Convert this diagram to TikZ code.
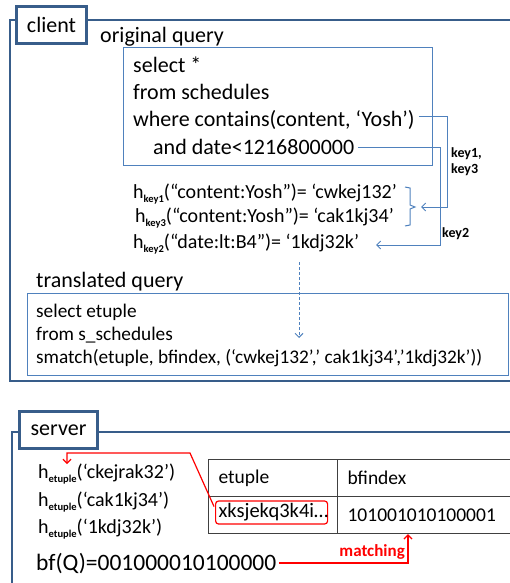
\documentclass[tikz,border=0pt]{standalone}
\usepackage{fontspec}
\setmainfont{Carlito}
\usetikzlibrary{arrows.meta,calc}
\definecolor{frameblue}{HTML}{385D8A}
\definecolor{boxblue}{HTML}{4F81BD}
\definecolor{hitred}{HTML}{FF0000}
\definecolor{cellgray}{HTML}{404040}
\newcommand{\hsb}[1]{\raisebox{-0.45ex}{\fontsize{10.5}{10.5}\selectfont\bfseries #1}}
\begin{document}
\begin{tikzpicture}[x=1pt, y=-1pt, >={Straight Barb[length=4pt,width=8pt]},
    frame/.style = {draw=frameblue, line width=2pt},
    tag/.style = {draw=frameblue, line width=3pt, fill=white, anchor=north west, minimum height=37pt, inner sep=0pt, font=\fontsize{22}{22}\selectfont},
    qbox/.style = {draw=boxblue, line width=1.2pt, anchor=north west, inner sep=0pt},
    big/.style = {anchor=base west, inner sep=0pt, font=\fontsize{22}{22}\selectfont},
    mid/.style = {anchor=base west, inner sep=0pt, font=\fontsize{20}{20}\selectfont},
    small/.style = {anchor=base west, inner sep=0pt, font=\fontsize{19.3}{19.3}\selectfont},
    keytext/.style = {inner sep=0pt, align=left, font=\fontsize{14}{16}\selectfont\bfseries},
    link/.style = {draw=boxblue, line width=1pt},
    cell/.style = {draw=cellgray, line width=1.2pt, anchor=north west, minimum height=37pt, inner xsep=10pt, inner ysep=0pt, text width=#1, font=\fontsize{19.5}{19.5}\selectfont},
    hit/.style = {draw=hitred, line width=1.2pt}]
    \useasboundingbox (0,0) rectangle (510,583);
    \clip (0,0) rectangle (510,583);

    \draw[frame] (520,20) -- (10,20) -- (10,381) -- (520,381);
    \node[tag, minimum width=70pt] (client) at (15,5) {client};

    \node[big] (orig) at (100,43) {original query};
    \node[qbox, minimum width=309pt, minimum height=118pt] (origbox) at (123,47) {};
    \node[big] (sel) at (133,73) {select *};
    \node[big] (frm) at (133,100) {from schedules};
    \node[big] (whr) at (133,127) {where contains(content, ‘Yosh’)};
    \node[big] (dat) at (153,154) {and date<1216800000};

    \node[mid] (hk1) at (133,198) {h\hsb{key1}(“content:Yosh”)= ‘cwkej132’};
    \node[mid] (hk3) at (135,222) {h\hsb{key3}(“content:Yosh”)= ‘cak1kj34’};
    \node[mid] (hk2) at (133,248) {h\hsb{key2}(“date:lt:B4”)= ‘1kdj32k’};

    \coordinate (bracetip) at (415,207);
    \draw[link] (405,187) -- (410,188) -- (410,205) -- (bracetip) -- (410,209) -- (410,225) -- (405,226);
    \coordinate (k13bend) at (447,207);
    \coordinate (k2bend) at (440,245);
    \coordinate (hk2tip) at (376,245);
    \draw[link, ->] ($(whr.base east)+(4,-10)$) -| (k13bend) |- ($(bracetip)+(6,0)$);
    \draw[link, ->] ($(dat.base east)+(4,-7)$) -| (k2bend) |- (hk2tip);
    \node[keytext, anchor=north west] (k13) at (451,147) {key1,\\key3};
    \node[keytext, anchor=base west] (k2) at (442,237) {key2};

    \coordinate (dstart) at (299,262);
    \coordinate (dend) at (299,338);
    \draw[link, dash pattern=on 3pt off 2pt, ->] (dstart) -- (dend);

    \node[big] (trq) at (36,287) {translated query};
    \node[qbox, minimum width=481pt, minimum height=82pt] (trbox) at (27,293) {};
    \node[small] (ts1) at (36,317) {select etuple};
    \node[small] (ts2) at (36,340) {from s\_schedules};
    \node[small] (ts3) at (36,363) {smatch(etuple, bfindex, (‘cwkej132’,’ cak1kj34’,’1kdj32k’))};

    \draw[frame] (520,432) -- (12,432) -- (12,590);
    \node[tag, minimum width=78pt] (server) at (18,410) {server};

    \node[mid] (he1) at (38,478) {h\hsb{etuple}(‘ckejrak32’)};
    \node[mid] (he2) at (38,506) {h\hsb{etuple}(‘cak1kj34’)};
    \node[mid] (he3) at (38,533) {h\hsb{etuple}(‘1kdj32k’)};
    \node[big, font=\fontsize{23.5}{23.5}\selectfont] (bfq) at (36,570) {bf(Q)=001000010100000};

    \node[cell=109pt] (c11) at (208,459) {etuple};
    \node[cell=170pt] (c12) at (337,459) {bfindex};
    \node[cell=109pt] (c21) at (208,496) {};
    \node[cell=170pt] (c22) at (337,496) {101001010100001};
    \node[hit, rounded corners=3pt, anchor=west, text width=106pt, inner xsep=3pt, inner ysep=0pt, minimum height=23pt, font=\fontsize{20.5}{20.5}\selectfont] (xk) at (215,512.5) {xksjekq3k4i…};

    \coordinate (rbend1) at (190,453);
    \coordinate (rbend2) at (67,453);
    \coordinate (rend) at (67,464);
    \draw[hit, ->] ($(xk.west)+(-1,-6)$) -- (rbend1) -- (rbend2) -- (rend);
    \draw[hit, ->] ([xshift=3pt]bfq.east) -| ($(c22.south west)+(71,0)$);
    \node[anchor=base east, inner sep=0pt, text=hitred, font=\fontsize{17}{17}\selectfont\bfseries] (match) at (405,556) {matching};
\end{tikzpicture}
\end{document}
